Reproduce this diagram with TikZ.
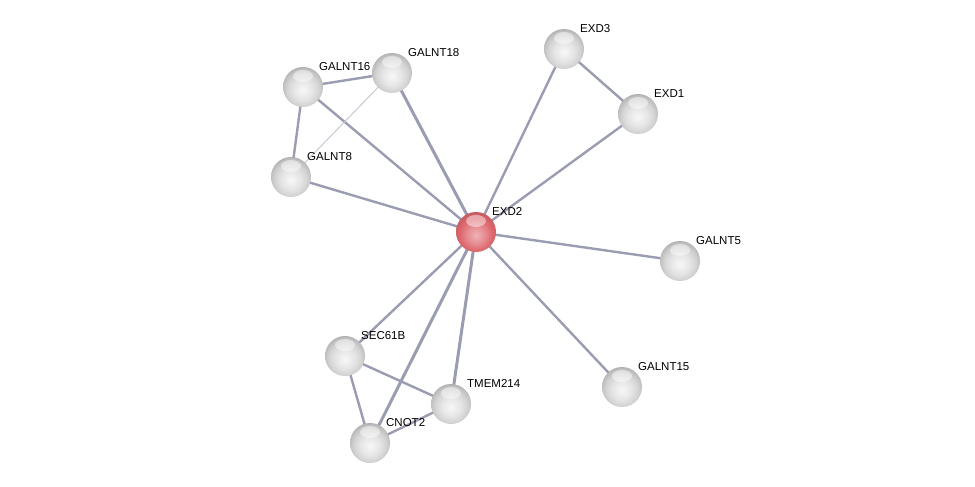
\documentclass[tikz,border=0pt]{standalone}
\usepackage{fontspec}
\setmainfont{Liberation Sans}
\usepackage{tikz}
\usetikzlibrary{shadings,backgrounds}

\definecolor{edgecol}{RGB}{154,156,178}
\definecolor{edgelight}{RGB}{200,200,212}
\definecolor{querycol}{RGB}{222,104,110}

% glossy balls
\pgfdeclareradialshading{greyball}{\pgfpoint{0bp}{-4bp}}{%
    color(0bp)=(white!97!black); color(12bp)=(white!90!black); color(20bp)=(white!83!black);
    color(26bp)=(white!74!black); color(31bp)=(white!62!black); color(35bp)=(white!50!black);
    color(100bp)=(white!50!black)}
\pgfdeclareradialshading{redball}{\pgfpoint{0bp}{-4bp}}{%
    color(0bp)=(querycol!50!white); color(12bp)=(querycol!78!white); color(20bp)=(querycol);
    color(26bp)=(querycol!92!black); color(31bp)=(querycol!78!black); color(35bp)=(querycol!62!black);
    color(100bp)=(querycol!62!black)}

\tikzset{
    protein/.style={circle, minimum size=40pt, inner sep=0pt, shading=greyball,
        path picture={\fill[white, opacity=0.45] (path picture bounding box.center) ++(0,-11)
            ellipse [x radius=10pt, y radius=6pt];},
        label={[font=\fontsize{11.5}{13}\selectfont, inner sep=1pt, anchor=south west, label distance=1pt]45:#1}},
    query/.style={protein=#1, shading=redball},
    link/.style={edgecol, line width=2.4pt},
    strong/.style={edgecol, line width=3pt},
    weak/.style={edgelight, line width=1pt}
}

\begin{document}
\begin{tikzpicture}[x=1pt,y=-1pt]
    \useasboundingbox (0,0) rectangle (975,487);

    % Query protein
    \node[query=EXD2] (exd2) at (476,232) {};

    % Partners
    \node[protein=EXD3] (exd3) at (564,49) {};
    \node[protein=EXD1] (exd1) at (638,114) {};
    \node[protein=GALNT16] (galnt16) at (303,87) {};
    \node[protein=GALNT18] (galnt18) at (392,73) {};
    \node[protein=GALNT8] (galnt8) at (291,177) {};
    \node[protein=GALNT5] (galnt5) at (680,261) {};
    \node[protein=GALNT15] (galnt15) at (622,387) {};
    \node[protein=SEC61B] (sec61b) at (345,356) {};
    \node[protein=TMEM214] (tmem214) at (451,404) {};
    \node[protein=CNOT2] (cnot2) at (370,443) {};

    % Edges behind the balls
    \begin{pgfonlayer}{background}
        \foreach \p in {exd3,exd1,galnt16,galnt8,galnt5,galnt15,sec61b}
            \draw[link] (exd2.center) -- (\p.center);
        \foreach \p in {galnt18,tmem214,cnot2}
            \draw[strong] (exd2.center) -- (\p.center);
        \draw[link] (exd3.center) -- (exd1.center);
        \draw[link] (galnt16.center) -- (galnt18.center);
        \draw[link] (galnt16.center) -- (galnt8.center);
        \draw[weak] (galnt8.center) -- (galnt18.center);
        \draw[link] (sec61b.center) -- (tmem214.center);
        \draw[link] (sec61b.center) -- (cnot2.center);
        \draw[link] (cnot2.center) -- (tmem214.center);
    \end{pgfonlayer}
\end{tikzpicture}
\end{document}
